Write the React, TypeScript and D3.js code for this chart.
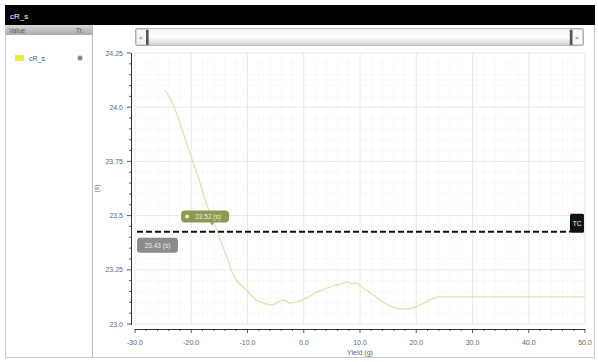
import * as d3 from 'd3'

// curve samples: [x, value]
const SERIES_X = [-24.67, -23.42, -22.36, -21.47, -20.58, -19.69, -18.62, -17.56, -16.49, -15.42, -14.53, -13.64, -12.76, -11.87, -10.62, -9.56, -8.49, -7.24, -5.64, -3.69, -2.44, -1.2, 0.58, 2.0, 3.42, 5.2, 6.62, 7.69, 8.58, 9.29, 10.53, 12.13, 13.56, 14.98, 16.22, 18.0, 19.42, 20.67, 22.09, 23.16, 24.22, 50]
const SERIES_Y = [24.079, 24.023, 23.954, 23.884, 23.815, 23.745, 23.667, 23.574, 23.5, 23.435, 23.366, 23.306, 23.241, 23.199, 23.167, 23.139, 23.111, 23.097, 23.088, 23.111, 23.097, 23.102, 23.12, 23.144, 23.157, 23.176, 23.185, 23.194, 23.185, 23.19, 23.167, 23.139, 23.111, 23.088, 23.074, 23.069, 23.074, 23.088, 23.106, 23.12, 23.125, 23.125]

const X_TICKS = [-30, -20, -10, 0, 10, 20, 30, 40, 50]
const Y_TICKS = [23.0, 23.25, 23.5, 23.75, 24.0, 24.25]
const Y_LABELS = ['23.0', '23.25', '23.5', '23.75', '24.0', '24.25']
const THRESHOLD = 23.426
const THRESHOLD_LABEL = '23.43 (s)'
const MARKER = { x: -16.3, y: 23.5, label: '23.52 (s)' }
const SERIES_NAME = 'cR_s'

const W = 598
const H = 362
const PLOT = { left: 135, right: 585, top: 53, bottom: 324 }
const FONT = 'Liberation Sans, Arial, sans-serif'

export default function App() {
  const x = d3.scaleLinear().domain([-30, 50]).range([PLOT.left, PLOT.right])
  const y = d3.scaleLinear().domain([23.0, 24.25]).range([PLOT.bottom, PLOT.top])

  const xMinor = d3.range(-30, 50.001, 2)
  const yMinor = d3.range(0, 26).map(i => 23.0 + i * 0.05)

  const line = d3.line<number>()
    .x((_, i) => x(SERIES_X[i]))
    .y(d => y(d))
    .curve(d3.curveMonotoneX)

  const axisY = PLOT.bottom + 5
  const yAxisX = PLOT.left - 4
  const mx = x(MARKER.x)
  const my = y(MARKER.y)
  const ty = y(THRESHOLD)

  return (
    <div style={{ position: 'fixed', left: 0, top: 0 }}>
      <svg width={W} height={H} style={{ display: 'block', fontFamily: FONT }}>
        <defs>
          <linearGradient id="hdr" x1="0" x2="0" y1="0" y2="1">
            <stop offset="0" stopColor="#d8d8d8" />
            <stop offset="1" stopColor="#a9a9a9" />
          </linearGradient>
          <linearGradient id="bar" x1="0" x2="0" y1="0" y2="1">
            <stop offset="0" stopColor="#f4f4f4" />
            <stop offset="0.5" stopColor="#ffffff" />
            <stop offset="1" stopColor="#cfcfcf" />
          </linearGradient>
        </defs>
        <rect x={0} y={0} width={W} height={H} fill="#fff" />
        {/* outer frame and title bar */}
        <rect x={5.5} y={5.5} width={589} height={352} fill="#fff" stroke="#c8c8c8" />
        <rect x={5} y={5} width={590} height={20} fill="#000" />
        <text x={10} y={19} fill="#fff" fontSize={8}>{SERIES_NAME}</text>

        {/* legend panel */}
        <rect x={6} y={25} width={86} height={10} fill="url(#hdr)" />
        <text x={9} y={33} fontSize={6.5} fill="#555">Value</text>
        <text x={76} y={33} fontSize={6.5} fill="#555">Tr.</text>
        <line x1={92.5} x2={92.5} y1={25} y2={357} stroke="#bdbdbd" />
        <rect x={15} y={55} width={9} height={6} fill="#e8ec3c" />
        <text x={29} y={61} fontSize={7} fill="#3a5a8a">{SERIES_NAME}</text>
        <circle cx={80} cy={58} r={2.5} fill="#888" />

        {/* range selector */}
        <rect x={135.5} y={28.5} width={448} height={17} rx={2} fill="url(#bar)" stroke="#bbb" />
        <rect x={136} y={29} width={12} height={16} fill="#f6f6f6" stroke="#999" strokeWidth={0.7} />
        <rect x={146} y={30} width={2.5} height={15} fill="#555" />
        <text x={139} y={40} fontSize={6} fill="#333">&lt;</text>
        <rect x={570} y={29} width={13} height={16} fill="#f6f6f6" stroke="#999" strokeWidth={0.7} />
        <rect x={570} y={30} width={2.5} height={15} fill="#555" />
        <text x={575} y={40} fontSize={6} fill="#333">&gt;</text>

        {/* grid */}
        {xMinor.map((v, i) => (
          <line key={'gx' + i} x1={x(v)} x2={x(v)} y1={PLOT.top} y2={PLOT.bottom}
            stroke={X_TICKS.includes(v) ? '#e8e8e8' : '#f3f3f3'} strokeDasharray={X_TICKS.includes(v) ? undefined : '1,1'} />
        ))}
        {yMinor.map((v, i) => {
          const major = Y_TICKS.some(t => Math.abs(t - v) < 1e-6)
          return (
            <line key={'gy' + i} x1={PLOT.left} x2={PLOT.right} y1={y(v)} y2={y(v)}
              stroke={major ? '#e8e8e8' : '#f3f3f3'} strokeDasharray={major ? undefined : '1,1'} />
          )
        })}

        {/* y axis */}
        <line x1={yAxisX + 0.5} x2={yAxisX + 0.5} y1={PLOT.top} y2={PLOT.bottom + 1} stroke="#333" />
        {yMinor.map((v, i) => {
          const major = Y_TICKS.some(t => Math.abs(t - v) < 1e-6)
          return <line key={'ty' + i} x1={yAxisX - (major ? 4 : 2)} x2={yAxisX} y1={y(v)} y2={y(v)} stroke="#333" strokeWidth={0.8} />
        })}
        {Y_TICKS.map((v, i) => (
          <text key={'ly' + i} x={yAxisX - 8} y={y(v) + 2.5} fontSize={7} fill="#666" textAnchor="end">{Y_LABELS[i]}</text>
        ))}
        <text transform={`translate(99,${(PLOT.top + PLOT.bottom) / 2}) rotate(-90)`} fontSize={7} fill="#666" textAnchor="middle">(s)</text>

        {/* x axis */}
        <line x1={PLOT.left} x2={PLOT.right} y1={axisY + 0.5} y2={axisY + 0.5} stroke="#333" />
        {xMinor.map((v, i) => (
          <line key={'tx' + i} x1={x(v)} x2={x(v)} y1={axisY} y2={axisY + (X_TICKS.includes(v) ? 4 : 2)} stroke="#333" strokeWidth={0.8} />
        ))}
        {X_TICKS.map((v, i) => (
          <text key={'lx' + i} x={x(v)} y={axisY + 16} fontSize={7} fill="#666" textAnchor="middle">{v.toFixed(1)}</text>
        ))}
        <text x={(PLOT.left + PLOT.right) / 2} y={axisY + 26} fontSize={7} fill="#666" textAnchor="middle">Yield (g)</text>

        {/* series */}
        <path d={line(SERIES_Y) ?? ''} fill="none" stroke="#e2e4b4" strokeWidth={1.4} />

        {/* threshold */}
        <line x1={137} x2={570} y1={ty} y2={ty} stroke="#111" strokeWidth={2} strokeDasharray="6,3" />
        <rect x={570} y={ty - 18} width={14} height={19} rx={1.5} fill="#111" />
        <text x={577} y={ty - 6} fontSize={6.5} fill="#fff" textAnchor="middle">TC</text>
        <rect x={137} y={ty + 6} width={41} height={15} rx={3} fill="#8c8c8c" />
        <text x={157.5} y={ty + 16} fontSize={6.5} fill="#f0f0f0" textAnchor="middle">{THRESHOLD_LABEL}</text>

        {/* marker tooltip */}
        <rect x={mx - 31} y={my - 5} width={48} height={12} rx={4} fill="#8a9a55" />
        <path d={`M${mx - 2},${my + 7} L${mx + 2},${my + 7} L${mx},${my + 10} Z`} fill="#8a9a55" />
        <circle cx={mx - 25} cy={my + 1} r={2} fill="#e8ecc8" />
        <text x={mx - 4} y={my + 3.5} fontSize={6.5} fill="#eef0dc" textAnchor="middle">{MARKER.label}</text>
      </svg>
    </div>
  )
}
